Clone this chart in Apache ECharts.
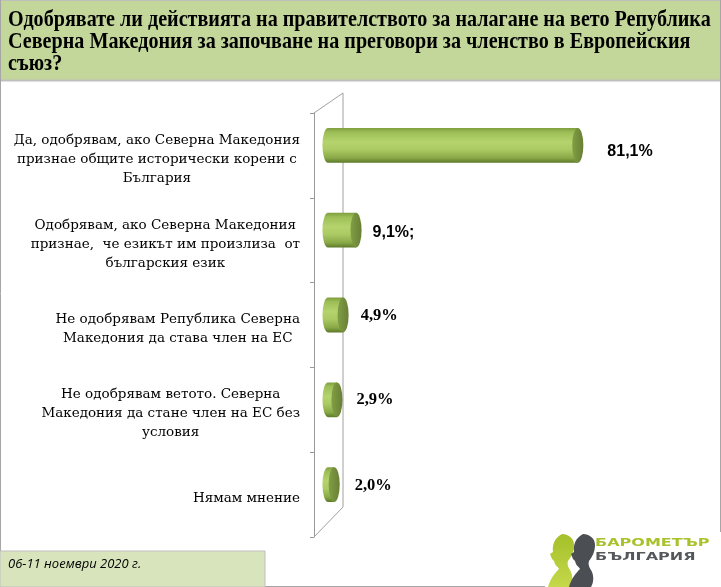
<!DOCTYPE html>
<html><head><meta charset="utf-8">
<script src="https://cdn.jsdelivr.net/npm/echarts@6/dist/echarts.min.js"></script>
<style>html,body{margin:0;padding:0;background:#fff}#c{width:721px;height:587px}</style>
</head><body><div id="c"></div>
<script>
// ---- data ----
const titleText = 'Одобрявате ли действията на правителството за налагане на вето Република\nСеверна Македония за започване на преговори за членство в Европейския\nсъюз?';
const categories = [
  'Да, одобрявам, ако Северна Македония\nпризнае общите исторически корени с\nБългария',
  'Одобрявам, ако Северна Македония\nпризнае,  че езикът им произлиза  от\nбългарския език',
  'Не одобрявам Република Северна\nМакедония да става член на ЕС',
  'Не одобрявам ветото. Северна\nМакедония да стане член на ЕС без\nусловия',
  'Нямам мнение'
];
const values = [81.1, 9.1, 4.9, 2.9, 2.0];
const valueLabels = ['81,1%', '9,1%;', '4,9%', '2,9%', '2,0%'];
const footerText = '06-11 ноември 2020 г.';
const logoLine1 = 'БАРОМЕТЪР';
const logoLine2 = 'БЪЛГАРИЯ';

// ---- styles ----
const labelFonts = [
  {fontFamily: '"Liberation Sans"', fontSize: 16},
  {fontFamily: '"Liberation Sans"', fontSize: 16},
  {fontFamily: '"Liberation Serif"', fontSize: 16.5},
  {fontFamily: '"Liberation Serif"', fontSize: 16.5},
  {fontFamily: '"Liberation Serif"', fontSize: 16.5}
];
const labelGap = [24, 11, 12, 14, 15];
const labelDy = [6, 2, 1, 0, 1];
const DEPTH_X = 14, DEPTH_Y = -10;

// head silhouette outline (logo decoration), cubic segments sampled to a polygon
function headPoints(ox, oy) {
  const segs = [
    ['M', 16, 0], ['C', 22, 0, 28, 4, 28, 11], ['C', 28, 18, 25, 23, 22, 27], ['C', 21, 30, 22, 33, 24, 36],
    ['C', 27, 41, 27, 48, 24, 53], ['L', 2, 53], ['C', 4, 45, 9, 39, 13, 35], ['C', 12, 33, 10, 32, 9, 30],
    ['L', 8, 27], ['L', 6, 25], ['L', 4, 20], ['L', 7, 18], ['C', 6, 12, 8, 4, 16, 0]
  ];
  const pts = []; let cx = 0, cy = 0;
  segs.forEach(s => {
    if (s[0] === 'M' || s[0] === 'L') { cx = s[1]; cy = s[2]; pts.push([ox + cx, oy + cy]); }
    else {
      const [, x1, y1, x2, y2, x3, y3] = s;
      for (let k = 1; k <= 8; k++) {
        const t = k / 8, u = 1 - t;
        pts.push([ox + u*u*u*cx + 3*u*u*t*x1 + 3*u*t*t*x2 + t*t*t*x3,
                  oy + u*u*u*cy + 3*u*u*t*y1 + 3*u*t*t*y2 + t*t*t*y3]);
      }
      cx = x3; cy = y3;
    }
  });
  return pts;
}

const chart = echarts.init(document.getElementById('c'), null, {renderer: 'canvas'});

function renderItem(params, api) {
  const i = api.value(1);
  const p0 = api.coord([0, i]);
  const p1 = api.coord([api.value(0), i]);
  const band = api.size([0, 1])[1];
  const h = band * 0.41, ry = h / 2, rx = h * 0.16;
  const cy = p0[1] + DEPTH_Y, x0 = p0[0] + DEPTH_X, x1 = p1[0] + DEPTH_X;
  const body = `M${x0} ${cy - ry} L${x1} ${cy - ry} L${x1} ${cy + ry} L${x0} ${cy + ry} A${rx} ${ry} 0 0 1 ${x0} ${cy - ry} Z`;
  const cap = `M${x1} ${cy - ry} A${rx} ${ry} 0 0 1 ${x1} ${cy + ry} A${rx} ${ry} 0 0 1 ${x1} ${cy - ry} Z`;
  const f = labelFonts[i];
  return {
    type: 'group',
    children: [
      {type: 'path', shape: {pathData: body}, style: {
        fill: {type: 'linear', x: 0, y: 0, x2: 0, y2: 1, colorStops: [
          {offset: 0, color: '#7f9e3e'}, {offset: 0.12, color: '#9dbd57'},
          {offset: 0.4, color: '#b5d46d'}, {offset: 0.62, color: '#abca63'},
          {offset: 0.86, color: '#89a948'}, {offset: 1, color: '#5c7928'}]},
        stroke: null}},
      {type: 'path', shape: {pathData: cap}, style: {
        fill: {type: 'linear', x: 0, y: 0, x2: 1, y2: 0, colorStops: [
          {offset: 0, color: '#819f45'}, {offset: 1, color: '#687f35'}]},
        stroke: null}},
      {type: 'text', x: x1 + rx + labelGap[i], y: cy + labelDy[i], style: {
        text: valueLabels[i], fill: '#000', fontWeight: 'bold',
        fontFamily: f.fontFamily, fontSize: f.fontSize, align: 'left', verticalAlign: 'middle'}}
    ]
  };
}

const gray = '#a6a6a6';
chart.setOption({
  animation: false,
  backgroundColor: '#ffffff',
  grid: {left: 314, top: 113, bottom: 50, right: 99, containLabel: false},
  xAxis: {type: 'value', min: 0, max: 100, show: false},
  yAxis: {
    type: 'category', inverse: true, data: categories,
    axisLine: {show: true, lineStyle: {color: '#9a9a9a', width: 1}},
    axisTick: {show: true, length: 4, lineStyle: {color: '#9a9a9a'}},
    axisLabel: {
      margin: 14, color: '#000', padding: [8, 0, 0, 0],
      formatter: v => v.split('\n').map(s => '{c|' + s + '}').join('\n'),
      rich: {c: {align: 'center', fontFamily: '"DejaVu Serif"', fontSize: 13.5, lineHeight: 19, color: '#000'}}
    },
    splitLine: {show: false}
  },
  series: [{
    type: 'custom', renderItem: renderItem,
    data: values.map((v, i) => [v, i]),
    encode: {x: 0, y: 1}
  }],
  graphic: [
    {type: 'rect', shape: {x: 0, y: 0, width: 721, height: 80}, style: {fill: '#c4d79b'}, z: -10},
    {type: 'text', x: 8, y: 9, scaleX: 0.875, style: {text: titleText, fill: '#000', fontWeight: 'bold',
      fontFamily: '"Liberation Serif"', fontSize: 23, lineHeight: 22}},
    {type: 'line', shape: {x1: 0, y1: 0.5, x2: 721, y2: 0.5}, style: {stroke: '#bfbfbf'}},
    {type: 'line', shape: {x1: 0, y1: 80.5, x2: 721, y2: 80.5}, style: {stroke: '#bfbfbf', lineWidth: 2}},
    {type: 'line', shape: {x1: 0.5, y1: 0, x2: 0.5, y2: 587}, style: {stroke: gray}},
    {type: 'line', shape: {x1: 720.5, y1: 0, x2: 720.5, y2: 532}, style: {stroke: gray}},
    {type: 'line', shape: {x1: 265, y1: 586.5, x2: 545, y2: 586.5}, style: {stroke: gray}},
    {type: 'polyline', shape: {points: [[314, 113], [343, 93], [343, 507], [314, 537]]}, style: {stroke: '#a0a0a0', fill: null}},
    {type: 'rect', shape: {x: 0, y: 551, width: 265, height: 36}, style: {fill: '#d8e4bc', stroke: '#bfbfbf', lineWidth: 1}},
    {type: 'text', x: 8, y: 564, style: {text: footerText, fill: '#000', fontStyle: 'italic',
      fontFamily: '"Open Sans"', fontSize: 13, verticalAlign: 'middle'}},
    {type: 'polygon', shape: {points: headPoints(546, 534)}, style: {fill: {type: 'linear', x: 0, y: 0, x2: 0, y2: 1,
      colorStops: [{offset: 0, color: '#a4c02a'}, {offset: 1, color: '#c5d84a'}]}}},
    {type: 'polygon', shape: {points: headPoints(567, 534)}, style: {fill: '#4b4e52'}},
    {type: 'text', x: 595, y: 543, scaleX: 1.6, style: {text: logoLine1, fill: '#a9c12b', fontWeight: 'bold',
      fontFamily: '"DejaVu Sans"', fontSize: 10, verticalAlign: 'middle'}},
    {type: 'text', x: 595, y: 557, scaleX: 1.6, style: {text: logoLine2, fill: '#55585b', fontWeight: 'bold',
      fontFamily: '"DejaVu Sans"', fontSize: 10, verticalAlign: 'middle'}}
  ]
});
</script></body></html>
